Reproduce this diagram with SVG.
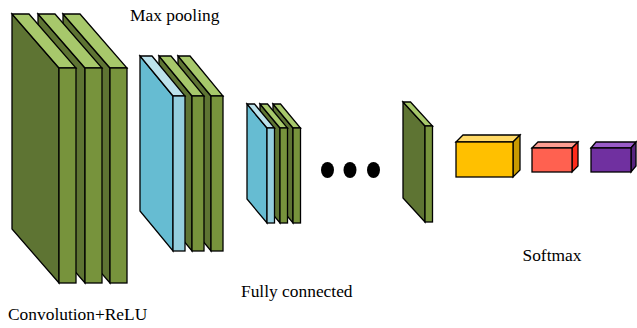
<svg xmlns="http://www.w3.org/2000/svg" width="637" height="328" viewBox="0 0 637 328">
  <style>
    .s { stroke: #000; stroke-width: 1.3; stroke-linejoin: miter; }
    .g-side { fill: #5E7433; }
    .g-top { fill: #A7C86B; }
    .g-front { fill: #77933C; }
    .b-side { fill: #66BCD2; }
    .b-top { fill: #BCE2EC; }
    .b-front { fill: #94CEDE; }
    .label { font-family: "Liberation Serif", "Times New Roman", serif; font-size: 17.4px; fill: #000; }
  </style>
  <rect x="0" y="0" width="637" height="328" fill="#fff"/>

  <!-- Convolution + ReLU feature maps (drawn back to front) -->
  <g id="conv-block" class="s">
    <polygon class="g-side" points="63,14 110,68 110,283 63,229"/>
    <polygon class="g-top" points="63,14 80,14 127,68 110,68"/>
    <rect class="g-front" x="110" y="68" width="17" height="215"/>
    <polygon class="g-side" points="38,14 85,68 85,283 38,229"/>
    <polygon class="g-top" points="38,14 55,14 102,68 85,68"/>
    <rect class="g-front" x="85" y="68" width="17" height="215"/>
    <polygon class="g-side" points="12,14 59,68 59,283 12,229"/>
    <polygon class="g-top" points="12,14 29,14 76,68 59,68"/>
    <rect class="g-front" x="59" y="68" width="17" height="215"/>
  </g>

  <!-- Pooling + convolution block -->
  <g id="pool-block-1" class="s">
    <polygon class="g-side" points="178,56 211,96 211,251 178,211"/>
    <polygon class="g-top" points="178,56 190,56 223,96 211,96"/>
    <rect class="g-front" x="211" y="96" width="12" height="155"/>
    <polygon class="g-side" points="159,56 192,96 192,251 159,211"/>
    <polygon class="g-top" points="159,56 171,56 204,96 192,96"/>
    <rect class="g-front" x="192" y="96" width="12" height="155"/>
    <polygon class="b-side" points="140,56 173,96 173,251 140,211"/>
    <polygon class="b-top" points="140,56 152,56 185,96 173,96"/>
    <rect class="b-front" x="173" y="96" width="12" height="155"/>
  </g>

  <g id="pool-block-2" class="s">
    <polygon class="g-side" points="273,104 293,128 293,223 273,199"/>
    <polygon class="g-top" points="273,104 280.5,104 300.5,128 293,128"/>
    <rect class="g-front" x="293" y="128" width="7.5" height="95"/>
    <polygon class="g-side" points="260,104 280,128 280,223 260,199"/>
    <polygon class="g-top" points="260,104 267.5,104 287.5,128 280,128"/>
    <rect class="g-front" x="280" y="128" width="7.5" height="95"/>
    <polygon class="b-side" points="247,104 267,128 267,223 247,199"/>
    <polygon class="b-top" points="247,104 254.5,104 274.5,128 267,128"/>
    <rect class="b-front" x="267" y="128" width="7.5" height="95"/>
  </g>

  <!-- ellipsis -->
  <g id="ellipsis" fill="#000">
    <ellipse cx="327.5" cy="170" rx="6.5" ry="8"/>
    <ellipse cx="350" cy="170" rx="6.5" ry="8"/>
    <ellipse cx="373.5" cy="170" rx="6.5" ry="8"/>
  </g>

  <g id="last-conv" class="s">
    <polygon class="g-side" points="403,102 425,126 425,222 403,198"/>
    <polygon class="g-top" points="403,102 410.5,102 432.5,126 425,126"/>
    <rect class="g-front" x="425" y="126" width="7.5" height="96"/>
  </g>

  <!-- fully connected / softmax boxes -->
  <g id="fc-yellow" class="s">
    <polygon fill="#FFD966" points="456,142 463,135 520,135 513,142"/>
    <polygon fill="#C99A00" points="513,142 520,135 520,170 513,177"/>
    <rect fill="#FFC000" x="456" y="142" width="57" height="35"/>
  </g>
  <g id="fc-red" class="s">
    <polygon fill="#FF9E92" points="532,148 538,142 578,142 572,148"/>
    <polygon fill="#FF2A1A" points="572,148 578,142 578,166 572,172"/>
    <rect fill="#FF6150" x="532" y="148" width="40" height="24"/>
  </g>
  <g id="fc-purple" class="s">
    <polygon fill="#9A5CC8" points="591,148 596,142 636,142 631,148"/>
    <polygon fill="#582580" points="631,148 636,142 636,166 631,172"/>
    <rect fill="#7030A0" x="591" y="148" width="40" height="24"/>
  </g>

  <g id="labels">
    <text class="label" x="130" y="21">Max pooling</text>
    <text class="label" x="8" y="320">Convolution+ReLU</text>
    <text class="label" x="241" y="297">Fully connected</text>
    <text class="label" x="522.5" y="261">Softmax</text>
  </g>
</svg>
